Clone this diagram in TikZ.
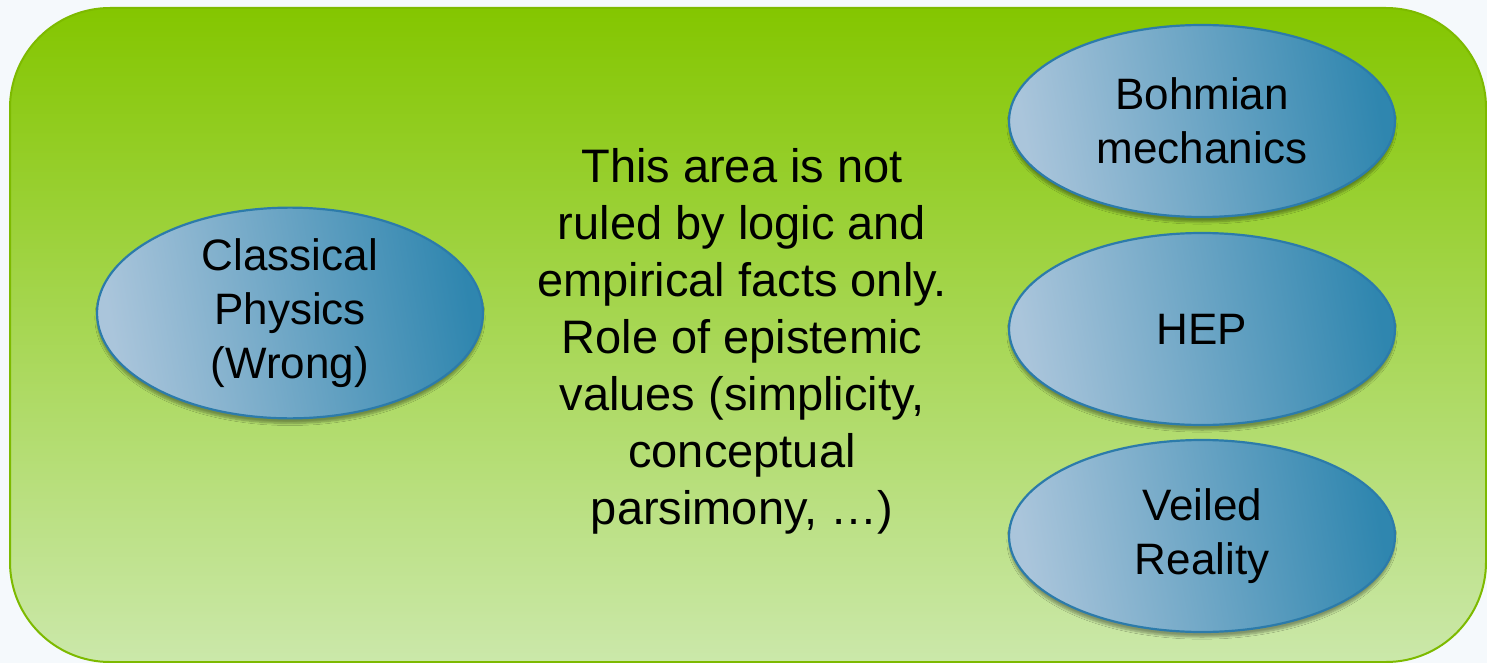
\documentclass[tikz,border=0pt]{standalone}
\usepackage{fontspec}
\setmainfont{Liberation Sans}
\usepackage{xcolor}
\usepackage{tikz}
\usetikzlibrary{shapes.geometric,shadows.blur}

\definecolor{pageBg}{HTML}{F5F9FC}
\definecolor{grTop}{HTML}{84C600}
\definecolor{grMid}{HTML}{A3D64F}
\definecolor{grBot}{HTML}{CBE8AA}
\definecolor{grEdge}{HTML}{7DBA00}
\definecolor{blLight}{HTML}{AAC5DB}
\definecolor{blDark}{HTML}{2F86AF}
\definecolor{blEdge}{HTML}{2C7BAA}

\begin{document}
\begin{tikzpicture}[x=1pt, y=-1pt]
                \tikzstyle{field} = [draw=grEdge, line width=2pt, rounded corners=100pt, top color=grTop, middle color=grMid, bottom color=grBot]
                \tikzstyle{school} = [ellipse, draw=blEdge, line width=2.2pt, minimum width=386pt, minimum height=192pt, inner sep=0pt, left color=blLight, right color=blDark, shading angle=100, align=center, text=black, font=\fontsize{44pt}{54pt}\selectfont, blur shadow={shadow xshift=0pt, shadow yshift=-5pt, shadow opacity=35, shadow blur steps=8}]
                \tikzstyle{note} = [align=center, text=black, font=\fontsize{47pt}{57pt}\selectfont]

                \fill [pageBg] (0,0) rectangle (1487,663);
                \useasboundingbox (0,0) rectangle (1487,663);
                \path [field] (10,8) rectangle (1486,662);

                \node (classical) [school] at (290,313) {Classical\\Physics\\(Wrong)};
                \node (bohm) [school] at (1202,121) {Bohmian\\mechanics};
                \node (hep) [school] at (1202,329) {HEP};
                \node (veiled) [school] at (1202,536) {Veiled\\Reality};
                \node (remark) [note] at (742,341) {This area is not\\ruled by logic and\\empirical facts only.\\Role of epistemic\\values (simplicity,\\conceptual\\parsimony, \dots)};
\end{tikzpicture}
\end{document}
